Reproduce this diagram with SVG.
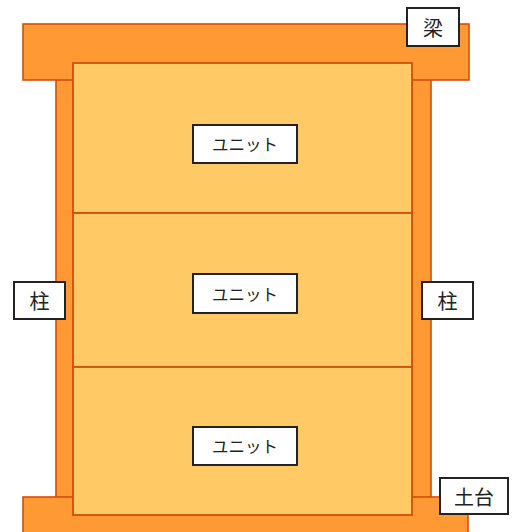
<svg xmlns="http://www.w3.org/2000/svg" width="517" height="532" viewBox="0 0 517 532">
  <style>
    .frame { fill: #FF9933; stroke: #D24E0C; stroke-width: 1.6; }
    .unit { fill: #FFC966; stroke: #D24E0C; stroke-width: 1.8; }
    .tag { fill: #FFFFFF; stroke: #222222; stroke-width: 2; }
    .txt { font-family: "Noto Sans CJK JP", "Noto Sans CJK SC", sans-serif; font-size: 16.5px; fill: #222222; text-anchor: middle; dominant-baseline: central; }
    .big { font-size: 20px; }
  </style>
  <rect width="517" height="532" fill="#FFFFFF"/>

  <!-- timber frame: posts, beam, sill -->
  <g id="post-left"><rect class="frame" x="56" y="78" width="18" height="420"/></g>
  <g id="post-right"><rect class="frame" x="412" y="78" width="19" height="420"/></g>
  <g id="beam"><rect class="frame" x="23" y="24" width="446" height="56"/></g>
  <g id="sill"><rect class="frame" x="23" y="497" width="445" height="40"/></g>

  <!-- stacked units -->
  <g id="unit-1">
    <rect class="unit" x="73" y="63" width="339" height="150"/>
    <rect class="tag" x="193" y="125" width="104" height="38"/>
    <text class="txt" x="245" y="144">ユニット</text>
  </g>
  <g id="unit-2">
    <rect class="unit" x="73" y="213" width="339" height="154"/>
    <rect class="tag" x="193" y="274" width="104" height="39"/>
    <text class="txt" x="245" y="294">ユニット</text>
  </g>
  <g id="unit-3">
    <rect class="unit" x="73" y="367" width="339" height="148"/>
    <rect class="tag" x="193" y="427" width="104" height="38"/>
    <text class="txt" x="245" y="446">ユニット</text>
  </g>

  <!-- labels -->
  <g id="label-beam">
    <rect class="tag" x="407" y="8" width="52" height="38"/>
    <text class="txt big" x="433" y="27">梁</text>
  </g>
  <g id="label-post-left">
    <rect class="tag" x="14" y="282" width="51" height="37"/>
    <text class="txt big" x="39.5" y="300.5">柱</text>
  </g>
  <g id="label-post-right">
    <rect class="tag" x="422" y="282" width="51" height="37"/>
    <text class="txt big" x="447.5" y="300.5">柱</text>
  </g>
  <g id="label-sill">
    <rect class="tag" x="440" y="478" width="68" height="36"/>
    <text class="txt big" x="474" y="496">土台</text>
  </g>
</svg>
